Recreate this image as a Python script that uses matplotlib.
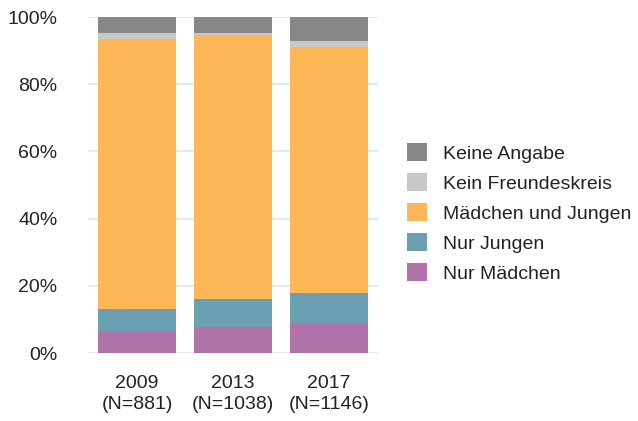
import matplotlib
matplotlib.use("Agg")
import matplotlib.pyplot as plt
from matplotlib.patches import Patch
import numpy as np

plt.rcParams['font.family'] = ['Liberation Sans', 'DejaVu Sans']

categories = ["2009\n(N=881)", "2013\n(N=1038)", "2017\n(N=1146)"]
series_names = ["Nur Mädchen", "Nur Jungen", "Mädchen und Jungen", "Kein Freundeskreis", "Keine Angabe"]
nur_maedchen = [6.5, 7.7, 8.9]
nur_jungen = [6.6, 8.4, 9.0]
maedchen_und_jungen = [80.4, 78.6, 73.2]
kein_freundeskreis = [1.8, 0.4, 1.7]
keine_angabe = [4.7, 4.9, 7.2]
colors = ["#b273ab", "#6aa0b2", "#fdb756", "#c8c8c8", "#878787"]

series = [nur_maedchen, nur_jungen, maedchen_und_jungen, kein_freundeskreis, keine_angabe]

FS = 14

fig = plt.figure(figsize=(6.38, 4.21), dpi=100)
ax = fig.add_axes([88/638, 1-353/421, 290/638, 336/421])

x = np.arange(len(categories))
bottom = np.zeros(len(categories))
for vals, name, c in zip(series, series_names, colors):
    ax.bar(x, vals, bottom=bottom, width=0.8125, color=c, label=name, zorder=2)
    bottom += np.array(vals)

ax.set_xlim(-0.51, 2.51)
ax.set_ylim(0, 100)
ax.set_yticks(np.arange(0, 101, 20))
ax.set_yticklabels([f"{v}%" for v in range(0, 101, 20)])
ax.set_xticks(x)
ax.set_xticklabels(categories, linespacing=1.32)
ax.grid(axis='y', color='#dde5ea', linewidth=1.2, zorder=0)
ax.set_axisbelow(True)
for s in ax.spines.values():
    s.set_visible(False)
ax.tick_params(axis='both', length=0, labelsize=FS, colors='#222222')
ax.tick_params(axis='y', pad=22)
ax.tick_params(axis='x', pad=15.5)

handles = [Patch(facecolor=c, edgecolor='none') for c in colors][::-1]
labels = series_names[::-1]
fig.legend(handles, labels, loc='upper left', bbox_to_anchor=(407/638, 1-143/421),
           frameon=False, fontsize=FS, handlelength=1.03, handleheight=1.03,
           labelspacing=0.54, handletextpad=0.82, borderaxespad=0, borderpad=0,
           labelcolor='#222222')

fig.savefig("out.png", dpi=100)
